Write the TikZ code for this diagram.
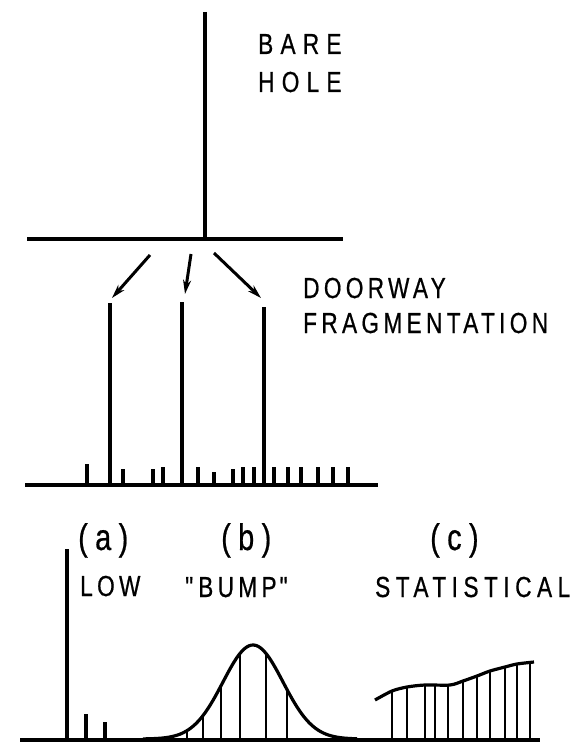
\documentclass[tikz,border=0pt]{standalone}
\usepackage{fontspec}
\usetikzlibrary{arrows.meta}
\newfontfamily\labfont[FakeStretch=0.78,LetterSpace=15,FakeBold=0.6]{Liberation Sans}
\newfontfamily\labwide[FakeStretch=0.78,LetterSpace=25,FakeBold=0.6]{Liberation Sans}
\newfontfamily\labstat[FakeStretch=0.78,LetterSpace=19,FakeBold=0.6]{Liberation Sans}
\newfontfamily\labpar[FakeStretch=0.78,LetterSpace=20,FakeBold=0.6]{Liberation Sans}
\tikzset{
  heavy/.style={line width=4.2pt},
  axisline/.style={line width=3.8pt},
  tickline/.style={line width=3.4pt},
  arr/.style={line width=3pt,-{Stealth[length=14pt,width=8pt]}},
  curveline/.style={line width=3.2pt,line join=round},
  hatch/.style={line width=2pt},
  lab/.style={anchor=base west,inner sep=0pt,font=\fontsize{29}{30}\labfont},
  labw/.style={anchor=base west,inner sep=0pt,font=\fontsize{29}{30}\labwide},
  labs/.style={anchor=base west,inner sep=0pt,font=\fontsize{29}{30}\labstat},
  labp/.style={anchor=base west,inner sep=0pt,font=\fontsize{37}{38}\labpar},
}
\begin{document}
\begin{tikzpicture}[x=1pt,y=-1pt]
\useasboundingbox (0,0) rectangle (580,749);
% ---- bare hole ----
\coordinate (hTop) at (205,12);
\coordinate (hBase) at (205,239);
\coordinate (aL) at (27,239);
\coordinate (aR) at (343,239);
\draw[heavy] (hTop) -- (hBase);
\draw[axisline] (aL) -- (aR);
\node[labw] (bare) at (258,54) {BARE};
\node[labw] (hole) at (258,92) {HOLE};
% ---- arrows ----
\coordinate (a1s) at (150,255); \coordinate (a1e) at (112,298);
\coordinate (a2s) at (191,254); \coordinate (a2e) at (185,294);
\coordinate (a3s) at (214,253); \coordinate (a3e) at (261,298);
\draw[arr] (a1s) -- (a1e);
\draw[arr] (a2s) -- (a2e);
\draw[arr] (a3s) -- (a3e);
\node[lab] (door) at (303,298) {DOORWAY};
\node[lab] (frag) at (303,333) {FRAGMENTATION};
% ---- doorway spectrum ----
\coordinate (bL) at (25,485);
\coordinate (bR) at (378,485);
\draw[axisline] (bL) -- (bR);
\foreach \px/\ptop in {110/303,182/302,264/307}
  \draw[heavy] (\px,\ptop) -- (\px,485);
\foreach \px/\ptop in {87/464,123/469,153/469,163/467,198/467,214/472,233/469,243/467,254/467,274/467,288/467,301/467,318/467,333/467,348/467}
  \draw[tickline] (\px,\ptop) -- (\px,485);
% ---- labels (a) (b) (c) ----
\node[labp] (pa) at (78,550) {(a)};
\node[labp] (pb) at (221,550) {(b)};
\node[labp] (pc) at (430,550) {(c)};
\node[lab] (low) at (80,596) {LOW};
\node[lab] (bump) at (185,597) {"\hspace{5pt}BUMP\hspace{3pt}"};
\node[labs] (stat) at (375,597) {STATISTICAL};
% ---- bottom spectra ----
\coordinate (cL) at (20,740);
\coordinate (cR) at (540,740);
\draw[axisline] (cL) -- (cR);
\draw[heavy] (67,549) -- (67,740);
\draw[tickline] (86,714) -- (86,740);
\draw[tickline] (105,722) -- (105,740);
% bump
\draw[curveline] plot[domain=143:357,samples=90] (\x,{739-94*exp(-((\x-253)*(\x-253))/1800)});
\foreach \hx in {187,203,221,240,266,287}
  \draw[hatch] (\hx,{739-94*exp(-((\hx-253)*(\hx-253))/1800)}) -- (\hx,740);
% statistical
\draw[curveline] plot[smooth] coordinates {(375,700) (392,691) (407,687) (425,685) (450,685) (463,681) (477,676) (490,671) (505,667) (517,664) (534,662)};
\foreach \hx/\hy in {392/691,407/687,425/685,435/685,448/685,463/681,477/676,490/671,505/667,517/664,530/662}
  \draw[hatch] (\hx,\hy) -- (\hx,740);
\end{tikzpicture}
\end{document}
